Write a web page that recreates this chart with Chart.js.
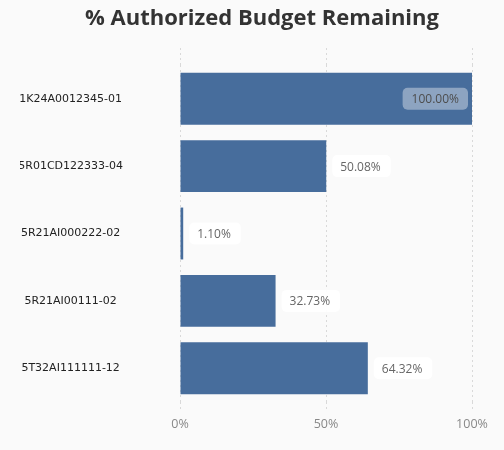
<!DOCTYPE html>
<html>
<head>
<meta charset="utf-8">
<script src="https://cdn.jsdelivr.net/npm/chart.js@4/dist/chart.umd.min.js"></script>
<style>
  html,body{margin:0;padding:0;background:#fafafa;}
  canvas{display:block;}
</style>
</head>
<body>
<canvas id="c" width="504" height="450"></canvas>
<script>
// data
const awards = ['1K24A0012345-01','5R01CD122333-04','5R21AI000222-02','5R21AI00111-02','5T32AI111111-12'];
const remainingPct = [100.00, 50.08, 1.10, 32.73, 64.32];
const xTicks = [0, 50, 100];

const BAR = '#476d9c';
const GRID = '#d9d9d9';

// value labels: inside the bar when it is near full, otherwise just past the end
const valueLabels = {
  id: 'valueLabels',
  afterDatasetsDraw(chart) {
    const ctx = chart.ctx;
    const meta = chart.getDatasetMeta(0);
    ctx.save();
    ctx.font = '12px "Open Sans"';
    ctx.textBaseline = 'middle';
    meta.data.forEach((bar, i) => {
      const v = remainingPct[i];
      const txt = v.toFixed(2) + '%';
      const w = ctx.measureText(txt).width;
      const h = 22, px = 9;
      const inside = v >= 90;
      let bx = inside ? bar.x - 4 - (w + px * 2) : bar.x + 6;
      const by = bar.y - h / 2;
      ctx.fillStyle = inside ? 'rgba(255,255,255,0.38)' : 'rgba(255,255,255,0.95)';
      ctx.beginPath();
      ctx.roundRect(bx, by, w + px * 2, h, 5);
      ctx.fill();
      ctx.fillStyle = inside ? '#4d4d4d' : '#666';
      ctx.textAlign = 'left';
      ctx.fillText(txt, bx + px - (inside ? 0 : 1), bar.y + 1);
    });
    ctx.restore();
  }
};

new Chart(document.getElementById('c'), {
  type: 'bar',
  data: {
    labels: awards,
    datasets: [{
      label: '% Authorized Budget Remaining',
      data: remainingPct,
      backgroundColor: BAR,
      barPercentage: 0.77,
      categoryPercentage: 1
    }]
  },
  options: {
    indexAxis: 'y',
    responsive: false,
    animation: false,
    layout: {padding: {left: 20, right: 0, top: 0, bottom: 13}},
    plugins: {
      legend: {display: false},
      tooltip: {enabled: false},
      title: {
        display: true,
        text: '% Authorized Budget Remaining',
        color: '#333',
        font: {family: '"Open Sans"', size: 22, weight: 'bold'},
        padding: {top: 6, bottom: 15.6}
      }
    },
    scales: {
      x: {
        min: 0, max: 100,
        afterBuildTicks: s => { s.ticks = xTicks.map(v => ({value: v})); },
        grid: {color: GRID, tickLength: 10, drawTicks: true, tickBorderDash: [2, 3]},
        border: {display: false, dash: [2, 3]},
        ticks: {
          padding: 5,
          color: '#888',
          font: {family: '"Open Sans"', size: 12.5},
          callback: v => v + '%'
        }
      },
      xTop: {
        position: 'top',
        min: 0, max: 100,
        afterBuildTicks: s => { s.ticks = xTicks.map(v => ({value: v})); },
        grid: {color: GRID, tickLength: 17, drawOnChartArea: false, tickBorderDash: [2, 3]},
        border: {display: false},
        ticks: {display: false}
      },
      y: {
        // wide label column; keep the large tick padding from pushing the plot area
        afterFit: s => { s.width = 160; s.paddingTop = 7; s.paddingBottom = 7; },
        grid: {display: false, drawTicks: false},
        border: {display: false},
        ticks: {
          crossAlign: 'center',
          padding: 57,
          color: '#222',
          font: {family: '"DejaVu Sans"', size: 11}
        }
      },
      rightGap: {
        type: 'linear',
        position: 'right',
        afterFit: s => { s.width = 32; },
        grid: {display: false, drawTicks: false},
        border: {display: false},
        ticks: {display: false}
      }
    }
  },
  plugins: [valueLabels]
});
</script>
</body>
</html>
